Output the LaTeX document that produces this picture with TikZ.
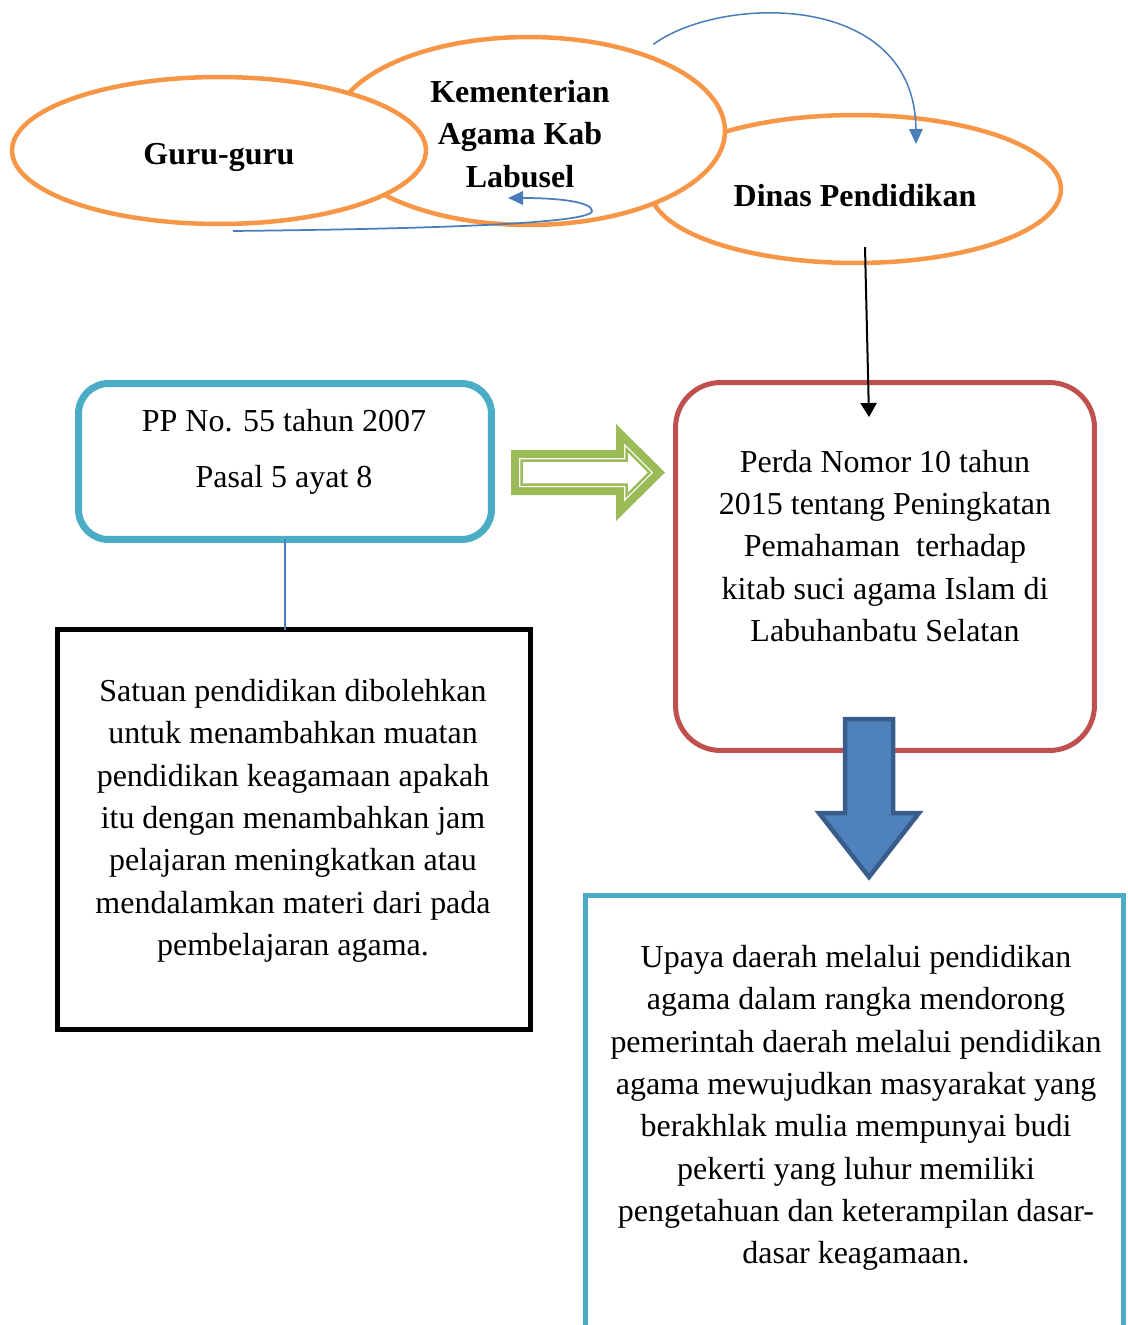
\documentclass[tikz,border=0pt]{standalone}
\usepackage{fontspec}
\setmainfont{Liberation Serif}
\usepackage{xcolor}
\usepackage{tikz}
\usetikzlibrary{arrows.meta, positioning, shapes.geometric}

\definecolor{orangeline}{HTML}{F79646}
\definecolor{tealline}{HTML}{4BACC6}
\definecolor{redline}{HTML}{C0504D}
\definecolor{greenarrow}{HTML}{9BBB59}
\definecolor{bluearrow}{HTML}{4F81BD}
\definecolor{bluedark}{HTML}{385D8A}
\definecolor{blueline}{HTML}{4A7EBB}

\begin{document}
\begin{tikzpicture}[x=0.02cm, y=-0.02cm, >={Triangle[length=0.3cm, width=0.27cm]},
    font=\fontsize{18.2}{24.1}\selectfont,
    bubble/.style={ellipse, draw=orangeline, line width=0.09cm, fill=white, inner sep=0pt, outer sep=0pt},
    bubbletext/.style={align=center, inner sep=0pt, font=\fontsize{18.2}{24.1}\selectfont\bfseries},
    frame/.style={line width=0.1cm, outer sep=0pt, inner sep=0pt},
    body/.style={align=center, inner sep=0pt}]
    \clip (0,0) rectangle (1128,1325);

    % top ellipses
    \node[bubble, minimum width=8.22cm, minimum height=2.96cm] (dinas) at (855.5,189) {};
    \node[bubbletext] (dinastext) at (855,196) {Dinas Pendidikan};
    \node[bubble, minimum width=7.86cm, minimum height=3.76cm] (kemenag) at (528.5,131) {};
    \node[bubbletext] (kemenagtext) at (520,134) {Kementerian\\Agama Kab\\Labusel};
    \node[bubble, minimum width=8.28cm, minimum height=2.94cm] (guru) at (219,150.5) {};
    \node[bubbletext] (gurutext) at (219,157) {Guru-guru};
    \draw[->, blueline, line width=0.03cm] ([shift={(14,-9)}]kemenag.35)
        .. controls (720,-5) and (915,-10) .. ([shift={(60.5,-45)}]dinas.center);
    \draw[->, blueline, line width=0.035cm] ([shift={(14,7)}]guru.south)
        .. controls (420,229) and (592,224) .. (592,211)
        .. controls (592,202) and (560,198) .. ([shift={(-20.5,-27)}]kemenag.south);

    % left column
    \node[frame, draw=tealline, line width=0.14cm, rounded corners=0.6cm, minimum width=8.26cm, minimum height=3.12cm] (pp) at (285,461.5) {};
    \node[body, font=\fontsize{18.2}{31.8}\selectfont] (pptext) at (284,452) {PP No. 55 tahun 2007\\Pasal 5 ayat 8};
    \node[frame, draw=black, minimum width=9.46cm, minimum height=8cm] (note) at (294,829.5) {};
    \node[body] (notetext) at (293,821)
        {Satuan pendidikan dibolehkan\\untuk menambahkan muatan\\pendidikan keagamaan apakah\\itu dengan menambahkan jam\\pelajaran meningkatkan atau\\mendalamkan materi dari pada\\pembelajaran agama.};
    \draw[blueline, line width=0.03cm] (pp.south) -- (pp.south |- note.north);

    % right column
    \node[frame, draw=redline, rounded corners=0.9cm, minimum width=8.38cm, minimum height=7.36cm] (perda) at (885,566.5) {};
    \node[body] (perdatext) at (885,546)
        {Perda Nomor 10 tahun\\2015 tentang Peningkatan\\Pemahaman\ \ terhadap\\kitab suci agama Islam di\\Labuhanbatu Selatan};
    \draw[->, line width=0.04cm, >={Triangle[length=0.28cm, width=0.32cm]}] ([shift={(9.5,-16)}]dinas.south) -- ([shift={(-16,34.5)}]perda.north);
    \node[frame, draw=tealline, minimum width=10.76cm, minimum height=10.1cm] (upaya) at (854.5,1147.5) {};
    \node[body] (upayatext) at (856,1108)
        {Upaya daerah melalui pendidikan\\agama dalam rangka mendorong\\pemerintah daerah melalui pendidikan\\agama mewujudkan masyarakat yang\\berakhlak mulia mempunyai budi\\pekerti yang luhur memiliki\\pengetahuan dan keterampilan dasar-\\dasar keagamaan.};

    % block arrows
    \fill[greenarrow] (511,450) -- (616,450) -- (616,424) -- (665,472.5) -- (616,521) -- (616,495) -- (511,495) -- cycle;
    \fill[white] (519,458) -- (624,458) -- (624,443.3) -- (653.2,472.5) -- (624,501.7) -- (624,487) -- (519,487) -- cycle;
    \draw[greenarrow, line width=0.05cm, fill=white] (521.5,460.5) -- (626.5,460.5) -- (626.5,449.4) -- (649.7,472.5)
        -- (626.5,495.6) -- (626.5,484.5) -- (521.5,484.5) -- cycle;
    \draw[bluedark, fill=bluearrow, line width=0.09cm] (845,719) -- (893,719) -- (893,813) -- (919,813)
        -- (869,877) -- (819,813) -- (845,813) -- cycle;
\end{tikzpicture}
\end{document}
